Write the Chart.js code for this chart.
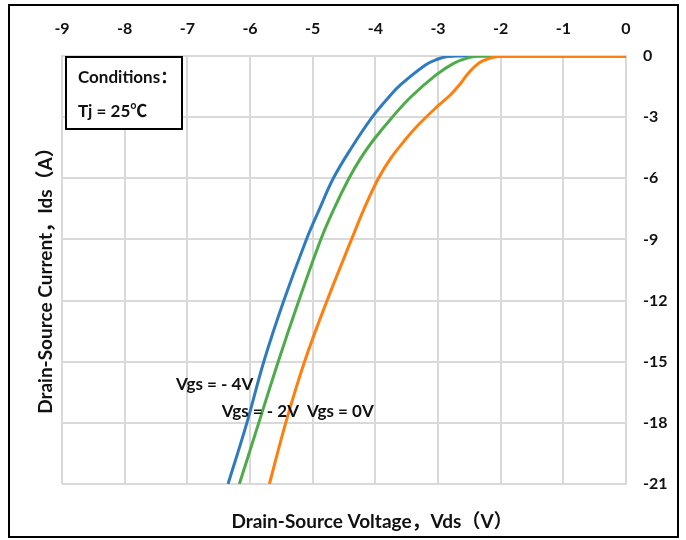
<!DOCTYPE html>
<html>
<head>
<meta charset="utf-8">
<script src="https://cdn.jsdelivr.net/npm/chart.js@4.4.0/dist/chart.umd.min.js"></script>
<style>
  html, body { margin: 0; padding: 0; background: #ffffff; }
  #wrap { width: 686px; height: 540px; position: relative; }
</style>
</head>
<body>
<div id="wrap"><canvas id="c" width="686" height="540"></canvas></div>
<script>
// ---- data ----
const xTickLabels = [-9, -8, -7, -6, -5, -4, -3, -2, -1, 0];
const yTickLabels = [0, -3, -6, -9, -12, -15, -18, -21];
const seriesNames = ['Vgs = 0V', 'Vgs = - 2V', 'Vgs = - 4V'];

// Vgs = 0V (orange)
const vds0 = [-5.69, -5.43, -5.13, -4.77, -4.38, -4.18, -3.95, -3.75, -3.52, -3.32, -3.02, -2.8, -2.64, -2.5, -2.34, -2.19, -2.05, -1.95, -1.0, 0];
const ids0 = [-21, -18, -15, -12, -9, -7.5, -6, -5, -4.1, -3.4, -2.5, -1.9, -1.35, -0.78, -0.33, -0.13, -0.03, 0, 0, 0];
// Vgs = -2V (green)
const vds2 = [-6.17, -5.86, -5.55, -5.22, -4.87, -4.66, -4.42, -4.23, -4.03, -3.73, -3.43, -3.04, -2.75, -2.51, -2.33, -2.0, -1.0, 0];
const ids2 = [-21, -18, -15, -12, -9, -7.5, -6, -5, -4.12, -3.0, -2.0, -0.95, -0.36, -0.08, 0, 0, 0, 0];
// Vgs = -4V (blue)
const vds4 = [-6.35, -6.05, -5.78, -5.46, -5.1, -4.89, -4.67, -4.38, -4.05, -3.78, -3.6, -3.2, -3.01, -2.85, -2.65, -2.0, -1.0, 0];
const ids4 = [-21, -18, -15, -12, -9, -7.5, -6, -4.5, -3, -2.0, -1.42, -0.44, -0.16, -0.03, 0, 0, 0, 0];

const seriesColors = ['#ff7f0e', '#4dab4a', '#2f7bbf'];

const xTitle = 'Drain-Source Voltage，Vds（V）';
const yTitle = 'Drain-Source Current，Ids（A）';
const condLines = ['Conditions：', 'Tj = 25℃'];
// label anchor positions (data coordinates: [Vds, Ids])
const labelPos = [[-5.09, -17.45], [-6.45, -17.45], [-7.18, -16.14]];

const FONT = "Lato, 'Liberation Sans', 'Noto Sans CJK SC', sans-serif";

function pts(xs, ys) { return xs.map((x, i) => ({ x: x, y: ys[i] })); }

const decor = {
  id: 'decor',
  beforeDraw(chart) {
    const ctx = chart.ctx;
    ctx.save();
    ctx.fillStyle = '#ffffff';
    ctx.fillRect(0, 0, chart.width, chart.height);
    ctx.restore();
  },
  afterDraw(chart) {
    const ctx = chart.ctx;
    const a = chart.chartArea;
    const xs = chart.scales.x, ys = chart.scales.y;
    ctx.save();
    // outer frame
    ctx.strokeStyle = '#000000';
    ctx.lineWidth = 2;
    ctx.strokeRect(9, 5, 669, 532);
    // conditions box
    ctx.fillStyle = '#ffffff';
    ctx.fillRect(a.left + 4, a.top + 1, 116, 72);
    ctx.strokeRect(a.left + 4, a.top + 1, 116, 72);
    ctx.fillStyle = '#111111';
    ctx.font = "bold 17px " + FONT;
    ctx.textAlign = 'left';
    ctx.textBaseline = 'middle';
    ctx.fillText(condLines[0], a.left + 16, a.top + 22);
    ctx.fillText(condLines[1], a.left + 16, a.top + 56);
    // series labels
    ctx.font = "bold 17px " + FONT;
    seriesNames.forEach((n, i) => {
      const px = xs.getPixelForValue(labelPos[i][0]);
      const py = ys.getPixelForValue(labelPos[i][1]);
      ctx.fillText(n, px, py);
    });
    // axis titles
    ctx.font = "bold 19px " + FONT;
    ctx.textAlign = 'center';
    ctx.fillText(xTitle, 372, 522);
    ctx.translate(46, 276);
    ctx.rotate(-Math.PI / 2);
    ctx.fillText(yTitle, 0, 0);
    ctx.restore();
  }
};

new Chart(document.getElementById('c'), {
  type: 'scatter',
  data: {
    datasets: [
      { label: seriesNames[0], data: pts(vds0, ids0) },
      { label: seriesNames[1], data: pts(vds2, ids2) },
      { label: seriesNames[2], data: pts(vds4, ids4) }
    ].map((d, i) => Object.assign(d, {
      showLine: true,
      borderColor: seriesColors[i],
      backgroundColor: seriesColors[i],
      borderWidth: 3,
      pointRadius: 0,
      tension: 0.4,
      fill: false
    }))
  },
  options: {
    responsive: false,
    animation: false,
    devicePixelRatio: 1,
    layout: { padding: { left: 62, right: 0, top: 0, bottom: 56 } },
    plugins: { legend: { display: false }, tooltip: { enabled: false } },
    scales: {
      x: {
        type: 'linear', position: 'top', min: -9, max: 0,
        afterBuildTicks: s => { s.ticks = xTickLabels.map(v => ({ value: v })); },
        afterFit: s => { s.height = 56; },
        grid: { color: '#d9d9d9', lineWidth: 2, drawTicks: false },
        border: { display: true, color: '#d9d9d9', width: 2 },
        ticks: { color: '#111111', font: { family: FONT, size: 16, weight: 'bold' }, padding: 18, maxRotation: 0,
                 callback: v => String(v) }
      },
      y: {
        type: 'linear', position: 'right', min: -21, max: 0,
        afterBuildTicks: s => { s.ticks = yTickLabels.map(v => ({ value: v })); },
        afterFit: s => { s.width = 60; },
        grid: { color: '#d9d9d9', lineWidth: 2, drawTicks: false },
        border: { display: true, color: '#d9d9d9', width: 2 },
        ticks: { color: '#111111', font: { family: FONT, size: 16, weight: 'bold' }, padding: 17,
                 callback: v => String(v) }
      }
    }
  },
  plugins: [decor]
});
</script>
</body>
</html>
